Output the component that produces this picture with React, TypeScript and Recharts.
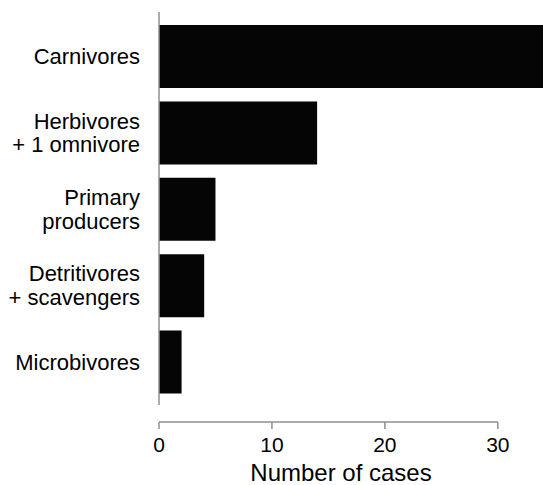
import { BarChart, Bar, XAxis, YAxis, ReferenceLine, Label } from "recharts";

// feeding groups, top to bottom; "\n" splits a label onto two lines
const groups = [
  "Carnivores",
  "Herbivores\n+ 1 omnivore",
  "Primary\nproducers",
  "Detritivores\n+ scavengers",
  "Microbivores",
];
const cases = [34, 14, 5, 4, 2];
const xTicks = [0, 10, 20, 30];

const data = groups.map((name, i) => ({ name, cases: cases[i] }));

const AXIS_GREY = "#8f8f8f";
const FONT = "'Liberation Sans', Arial, Helvetica, sans-serif";

// helper y axis runs over row indices 0..4, top to bottom of the plot
const FRAME_BOTTOM = groups.length - 1;
const Y_LINE_END = FRAME_BOTTOM * (393 / 410); // y axis line stops above the x axis

function GroupTick(props: any) {
  const { x, y, payload } = props;
  const lines: string[] = String(payload.value).split("\n");
  const lh = 23.7;
  const start = 7.9 - ((lines.length - 1) * lh) / 2;
  return (
    <text x={x} y={y} textAnchor="end" fill="#000" fontSize={22} fontFamily={FONT}>
      {lines.map((l, i) => (
        <tspan key={i} x={x} y={y + start + i * lh}>
          {l}
        </tspan>
      ))}
    </text>
  );
}

export default function App() {
  return (
    <div style={{ position: "absolute", left: 0, top: 0, background: "#fff" }}>
      <BarChart
        width={543}
        height={485}
        data={data}
        layout="vertical"
        margin={{ top: 12, right: 0, bottom: 0, left: 0 }}
      >
        <XAxis
          type="number"
          dataKey="cases"
          domain={[0, 34]}
          ticks={xTicks}
          axisLine={false}
          tickLine={{ stroke: AXIS_GREY, strokeWidth: 1.5 }}
          tickSize={7}
          tickMargin={8}
          height={63}
          tick={{ fill: "#000", fontSize: 21, fontFamily: FONT }}
        >
          <Label
            value="Number of cases"
            position="insideBottom"
            offset={4}
            dx={-10}
            fill="#000"
            fontSize={24}
            fontFamily={FONT}
          />
        </XAxis>
        <YAxis
          type="category"
          dataKey="name"
          width={159}
          axisLine={false}
          tickLine={false}
          tickSize={0}
          tickMargin={19}
          padding={{ top: 6, bottom: 22 }}
          tick={<GroupTick />}
          interval={0}
        />
        <YAxis yAxisId="frame" type="number" hide />
        <ReferenceLine
          yAxisId="frame"
          segment={[
            { x: 0, y: 0 },
            { x: 0, y: Y_LINE_END },
          ]}
          stroke={AXIS_GREY}
          strokeWidth={1.5}
        />
        <ReferenceLine
          yAxisId="frame"
          segment={[
            { x: 0, y: FRAME_BOTTOM },
            { x: 30, y: FRAME_BOTTOM },
          ]}
          stroke={AXIS_GREY}
          strokeWidth={1.5}
        />
        <Bar dataKey="cases" fill="#050505" barSize={63} isAnimationActive={false} />
      </BarChart>
    </div>
  );
}
